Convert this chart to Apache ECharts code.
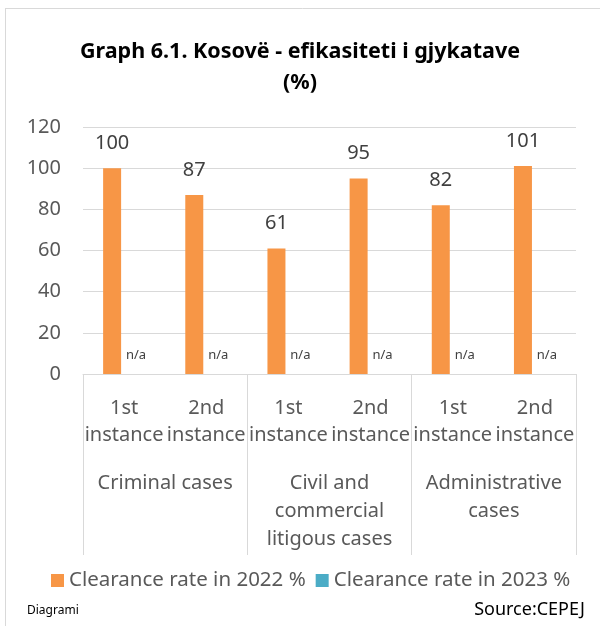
<!DOCTYPE html>
<html>
<head>
<meta charset="utf-8">
<script src="https://cdn.jsdelivr.net/npm/echarts@6/dist/echarts.min.js"></script>
<style>
  html, body { margin: 0; padding: 0; background: #fff; }
  #chart { width: 600px; height: 626px; }
</style>
</head>
<body>
<div id="chart"></div>
<script>
// data
var instances = ['1st\ninstance', '2nd\ninstance', '1st\ninstance', '2nd\ninstance', '1st\ninstance', '2nd\ninstance'];
var caseGroups = ['Criminal cases', 'Civil and\ncommercial\nlitigous cases', 'Administrative\ncases'];
var rate2022 = [100, 87, 61, 95, 82, 101];
var rate2023 = [0, 0, 0, 0, 0, 0]; // n/a
var yTicks = [0, 20, 40, 60, 80, 100, 120];

var font = '"Noto Sans", "Open Sans", sans-serif';
var grey = '#595959';

var chart = echarts.init(document.getElementById('chart'));
var option = {
  backgroundColor: '#fff',
  animation: false,
  textStyle: { fontFamily: font },
  title: {
    text: 'Graph 6.1. Kosovë - efikasiteti i gjykatave\n(%)',
    left: 'center',
    top: 31,
    textStyle: {
      fontFamily: font,
      fontSize: 21.5,
      fontWeight: 'bold',
      color: '#000',
      lineHeight: 31
    }
  },
  grid: {
    left: 83,
    right: 24,
    top: 127,
    bottom: 252
  },
  legend: {
    bottom: 30,
    left: 46,
    itemWidth: 13,
    itemHeight: 13,
    itemGap: 10,
    icon: 'rect',
    textStyle: { fontFamily: font, fontSize: 20.5, color: grey },
    data: ['Clearance rate in 2022 %', 'Clearance rate in 2023 %']
  },
  xAxis: [
    {
      type: 'category',
      data: instances,
      axisLine: { show: true, lineStyle: { color: '#D9D9D9' } },
      axisTick: { show: false },
      axisLabel: {
        interval: 0,
        margin: 21,
        fontSize: 20,
        lineHeight: 27,
        color: grey
      }
    },
    {
      type: 'category',
      position: 'bottom',
      data: caseGroups,
      axisLine: { show: false },
      axisTick: {
        show: true,
        alignWithLabel: false,
        inside: false,
        length: 181,
        lineStyle: { color: '#D9D9D9' }
      },
      axisLabel: {
        interval: 0,
        margin: 95,
        fontSize: 20,
        lineHeight: 28,
        color: grey
      }
    }
  ],
  yAxis: {
    type: 'value',
    min: yTicks[0],
    max: yTicks[yTicks.length - 1],
    interval: 20,
    axisLine: { show: false },
    axisTick: { show: false },
    splitLine: { lineStyle: { color: '#D9D9D9', width: 1 } },
    axisLabel: { fontSize: 20, color: grey, margin: 22 }
  },
  series: [
    {
      name: 'Clearance rate in 2022 %',
      type: 'bar',
      data: rate2022,
      barWidth: 18,
      barGap: '33%',
      itemStyle: { color: '#F79646' },
      label: {
        show: true,
        position: 'top',
        distance: 15,
        fontSize: 20,
        color: '#404040'
      }
    },
    {
      name: 'Clearance rate in 2023 %',
      type: 'bar',
      data: rate2023,
      barWidth: 18,
      itemStyle: { color: '#4BACC6' },
      label: {
        show: true,
        position: 'top',
        distance: 12,
        fontSize: 13,
        color: '#404040',
        formatter: function () { return 'n/a'; }
      }
    }
  ],
  graphic: [
    { type: 'line', shape: { x1: 5, y1: 8.5, x2: 600, y2: 8.5 }, style: { stroke: '#D9D9D9', lineWidth: 1 } },
    { type: 'line', shape: { x1: 5.5, y1: 8, x2: 5.5, y2: 626 }, style: { stroke: '#D9D9D9', lineWidth: 1 } },
    {
      type: 'text',
      left: 27,
      top: 605,
      style: { text: 'Diagrami', fontFamily: font, fontSize: 12, fill: '#000' }
    },
    {
      type: 'text',
      right: 15,
      top: 601,
      style: { text: 'Source:CEPEJ', fontFamily: font, fontSize: 18, fill: '#000' }
    }
  ]
};
chart.setOption(option);
</script>
</body>
</html>
